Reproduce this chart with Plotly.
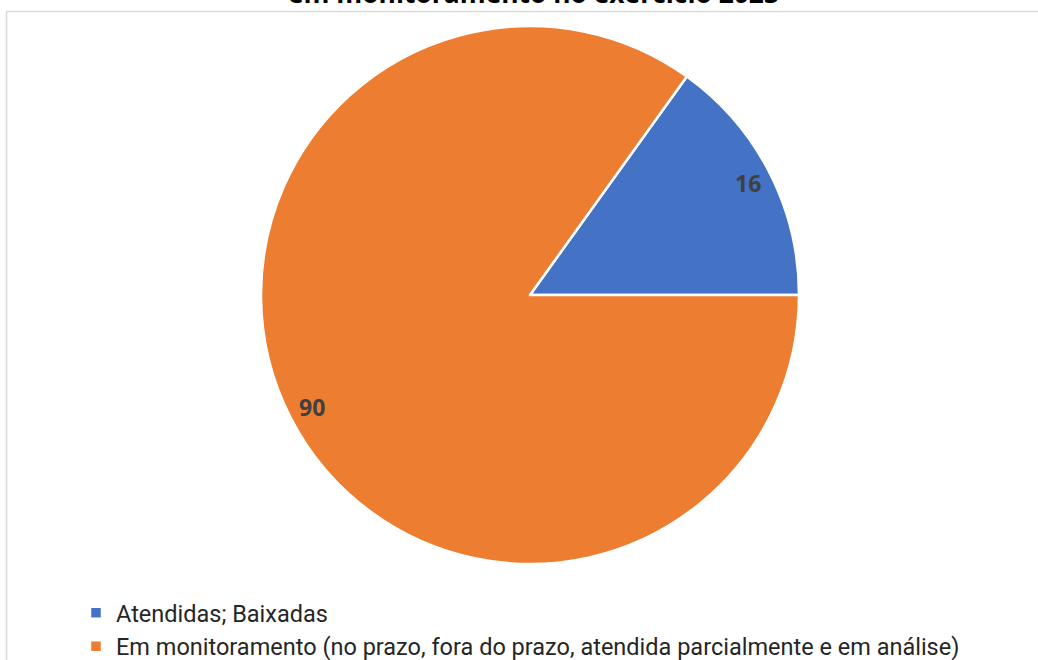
import math
import plotly.graph_objects as go

# Data
categories = ["Atendidas; Baixadas",
              "Em monitoramento (no prazo, fora do prazo, atendida parcialmente e em análise)"]
values = [16, 90]
colors = ["#4472C4", "#ED7D31"]
title_text = "em monitoramento no exercício 2023"

W, H = 1038, 660
# pie geometry (pixels)
cx, cy, R = 530, 295, 269
dom_x = [(cx - R) / W, (cx + R) / W]
dom_y = [1 - (cy + R) / H, 1 - (cy - R) / H]

total = sum(values)
first_start = 90 - 360 * values[0] / total  # first slice ends at 3 o'clock (clockwise)

fig = go.Figure()
fig.add_trace(go.Pie(
    labels=categories,
    values=values,
    marker=dict(colors=colors, line=dict(color="white", width=2.5)),
    sort=False,
    direction="clockwise",
    rotation=first_start,
    textinfo="none",
    hoverinfo="label+value",
    domain=dict(x=dom_x, y=dom_y),
    showlegend=True,
))

# data labels, positioned from the values (mid-angle of each slice near the rim)
annotations = []
acc = first_start
for v in values:
    mid = acc + 360 * v / total / 2
    acc += 360 * v / total
    rr = 0.91 * R
    px = cx + rr * math.sin(math.radians(mid))
    py = cy - rr * math.cos(math.radians(mid))
    annotations.append(dict(
        x=px / W, y=1 - py / H, xref="paper", yref="paper",
        text=f"<b>{v}</b>", showarrow=False,
        font=dict(family="Open Sans, Liberation Sans, sans-serif", size=23, color="#404040"),
        xanchor="center", yanchor="middle",
    ))

# clipped title (only its last line peeks in at the top)
annotations.append(dict(
    x=533.5 / W, y=1 - 13 / H, xref="paper", yref="paper",
    text=f"<b>{title_text}</b>", showarrow=False,
    font=dict(family="Open Sans, Liberation Sans, sans-serif", size=26.4, color="#000000"),
    xanchor="center", yanchor="bottom",
))

shapes = [
    dict(type="line", xref="paper", yref="paper",
         x0=6.5 / W, x1=1.0, y0=1 - 11.5 / H, y1=1 - 11.5 / H,
         line=dict(color="#D9D9D9", width=1.5)),
    dict(type="line", xref="paper", yref="paper",
         x0=6.5 / W, x1=6.5 / W, y0=0, y1=1 - 11.5 / H,
         line=dict(color="#D9D9D9", width=1.5)),
]

fig.update_layout(
    width=W, height=H,
    margin=dict(l=0, r=0, t=0, b=0, autoexpand=False),
    paper_bgcolor="white",
    plot_bgcolor="white",
    annotations=annotations,
    shapes=shapes,
    legend=dict(
        x=76 / W, y=1 - 591 / H, xanchor="left", yanchor="top",
        orientation="v",
        font=dict(family="Roboto, sans-serif", size=23.5, color="#262626"),
        bgcolor="rgba(0,0,0,0)",
        itemwidth=30,
    ),
)

fig.write_html("out.html", config={"displayModeBar": False},
               post_script="document.body.style.margin='0px';")
